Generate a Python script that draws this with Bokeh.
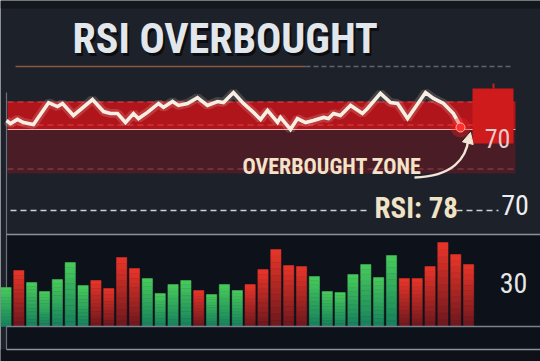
from bokeh.plotting import figure
from bokeh.models import Range1d, BoxAnnotation, Label, Arrow, NormalHead, ColumnDataSource
from bokeh.embed import file_html
from bokeh.resources import INLINE

# ---------------- data ----------------
title_text = "RSI OVERBOUGHT"
zone_text = "OVERBOUGHT ZONE"
rsi_label = "RSI: 78"
level_labels = ["70", "70", "30"]

# RSI line (time index, RSI value)
rsi_t = [0.04, 0.35, 0.89, 1.36, 2.14, 3.31, 4.01, 4.40, 5.25, 6.73, 7.59, 8.13, 8.68, 9.30,
         9.92, 10.31, 11.01, 11.87, 12.26, 12.96, 13.42, 14.12, 14.90, 15.68, 16.46, 16.93,
         17.70, 18.48, 19.26, 19.81, 20.35, 21.13, 21.36, 22.14, 22.68, 23.31, 23.93, 24.71,
         25.10, 25.49, 26.03, 26.81, 27.74, 28.13, 29.14, 29.92, 30.47, 31.25, 32.65, 33.27,
         34.05, 34.82, 35.21, 35.37]
rsi_v = [73.2, 72.1, 73.6, 72.5, 71.8, 79.6, 78.2, 79.3, 75.0, 80.7, 76.4, 75.7, 75.7, 72.5,
         75.7, 73.9, 76.1, 79.3, 77.9, 80.0, 78.6, 79.3, 81.4, 78.6, 80.0, 79.6,
         83.2, 79.3, 76.1, 73.6, 76.8, 72.5, 74.3, 70.0, 73.9, 72.5, 73.2, 74.3,
         73.9, 75.7, 75.0, 78.6, 75.7, 77.5, 82.9, 79.6, 79.3, 73.9, 83.2, 81.1,
         79.3, 75.7, 72.5, 70.7]

# volume bars
volume = [39, 56, 44, 35, 47, 64, 41, 46, 38, 69, 58, 48, 33, 42, 46, 36, 32, 42, 36, 42,
          57, 77, 61, 60, 50, 35, 34, 52, 62, 49, 71, 48, 48, 60, 84, 72, 62]
direction = ["up", "down", "up", "up", "up", "up", "up", "down", "down", "down", "down",
             "up", "up", "up", "up", "down", "up", "up", "up", "down", "down", "down",
             "down", "down", "up", "up", "up", "up", "up", "up", "up", "down", "down",
             "down", "down", "down", "down"]

# decorative candle (RSI units)
candle_high, candle_top, candle_bottom = 86.4, 84.6, 65.0

# ---------------- layout helpers (screen px -> data) ----------------
W, H = 540, 361
X0, DX = 5.5, 12.85
PXU = 2.8


def tx(px):
    return (px - X0) / DX


def vy(py):
    return 70 + (129 - py) / PXU


p = figure(width=W, height=H, output_backend="svg", toolbar_location=None,
           x_range=Range1d(tx(0), tx(W)), y_range=Range1d(vy(H), vy(0)),
           x_axis_location=None, y_axis_location=None, min_border=0,
           background_fill_color="#1d212a", border_fill_color="#1d212a",
           outline_line_color=None)
p.grid.visible = False
p.extra_y_ranges = {"vol": Range1d(326 - H, 326)}

FONT = "'Liberation Sans Narrow', 'Roboto Condensed', Roboto, sans-serif"


def box(**kw):
    b = BoxAnnotation(level="underlay", line_color=None, fill_alpha=kw.pop("fill_alpha", 1), **kw)
    p.add_layout(b)


# background shading
box(top=vy(0), bottom=vy(8), fill_color="#12151c", fill_alpha=0.8)
box(top=vy(349), bottom=vy(H), fill_color="#0e1117")

# red zone
box(left=tx(7), right=tx(515), top=vy(101), bottom=vy(129), fill_color="#b0151b")
box(left=tx(7), right=tx(515), top=vy(129), bottom=vy(173), fill_color="#4a1c26")

# bottom panel
box(left=tx(6), top=vy(234), bottom=vy(349), fill_color="#0d1119")

# title underline
p.segment(x0=[tx(15)], y0=[vy(66)], x1=[tx(305)], y1=[vy(66)], line_color="#8a5a3c", line_width=1.5)
p.segment(x0=[tx(305)], y0=[vy(66)], x1=[tx(512)], y1=[vy(66)], line_color="#5f6570", line_width=1.5,
          line_dash="5 3")

p.segment(x0=[tx(7)] * 2, y0=[vy(101.5), vy(124.5)], x1=[tx(515)] * 2, y1=[vy(101.5), vy(124.5)],
          line_color="#e65454", line_width=1, line_dash="6 4", line_alpha=0.8)
p.segment(x0=[tx(7)], y0=[vy(168.5)], x1=[tx(515)], y1=[vy(168.5)],
          line_color="#a8505c", line_width=1, line_dash="6 4", line_alpha=0.8)
p.segment(x0=[tx(7)], y0=[70], x1=[tx(515)], y1=[70], line_color="#eab0b0", line_width=1.2)

# left vertical border
p.segment(x0=[tx(6)], y0=[vy(92)], x1=[tx(6)], y1=[vy(349)], line_color="#6b717a", line_width=1.2)

# candle
p.quad(left=[tx(472)], right=[tx(513)], top=[candle_top], bottom=[candle_bottom],
       fill_color="#cf1b1b", line_color=None)
p.segment(x0=[tx(493)], y0=[candle_top], x1=[tx(493)], y1=[candle_high], line_color="#c42020", line_width=2)

# RSI line
p.line(rsi_t, rsi_v, line_color="#ffd0c0", line_width=9, line_alpha=0.18)
p.line(rsi_t, rsi_v, line_color="#f6efe4", line_width=3.6, line_join="miter")
p.scatter([rsi_t[-1]], [rsi_v[-1]], size=20, fill_color="#ff2020", fill_alpha=0.35, line_color=None)
p.scatter([rsi_t[-1]], [rsi_v[-1]], size=9, fill_color="#ff3030", line_color="#ffb0a0", line_width=1)

# arrow
p.bezier(x0=[tx(414)], y0=[vy(177)], x1=[tx(468)], y1=[vy(138)],
         cx0=[tx(452)], cy0=[vy(176)], cx1=[tx(466)], cy1=[vy(158)],
         line_color="#f0e6d8", line_width=2.5)
p.add_layout(Arrow(end=NormalHead(size=11, fill_color="#f0e6d8", line_color="#f0e6d8"),
                   x_start=tx(467.5), y_start=vy(142), x_end=tx(470), y_end=vy(132),
                   line_color="#f0e6d8", line_width=2.5))

# RSI 78 dashed line
p.segment(x0=[tx(10), tx(456)], y0=[vy(210)] * 2, x1=[tx(370), tx(498)], y1=[vy(210)] * 2,
          line_color="#cfd3d8", line_width=1.3, line_dash="6 4")

# bottom panel frame
p.segment(x0=[tx(6), tx(6)], y0=[vy(234), vy(349)], x1=[tx(W), tx(W)], y1=[vy(234), vy(349)],
          line_color="#8c929a", line_width=1.3)

# gradient bars
NS = 12
cols = {"up": ((74, 204, 92), (22, 128, 92)), "down": ((234, 54, 42), (108, 24, 30))}
bx, bb, bt, bc = [], [], [], []
for i, (v, d) in enumerate(zip(volume, direction)):
    top_c, bot_c = cols[d]
    for j in range(NS):
        f = (j + 0.5) / NS
        c = tuple(int(bot_c[k] + (top_c[k] - bot_c[k]) * f) for k in range(3))
        bx.append(i)
        bb.append(v * j / NS)
        bt.append(v * (j + 1) / NS)
        bc.append("#%02x%02x%02x" % c)
src = ColumnDataSource(dict(x=bx, bottom=bb, top=bt, color=bc))
p.vbar(x="x", bottom="bottom", top="top", width=0.8, fill_color="color", line_color="color",
       line_width=0.5, source=src, y_range_name="vol")
p.segment(x0=[tx(6)], y0=[0], x1=[tx(W)], y1=[0], line_color="#7d838c", line_width=1.3, y_range_name="vol")


# texts (baseline given in screen px; small correction for renderer baseline offset)
def label(px, py, text, size, color, bold=True, align="left", alpha=1.0):
    p.add_layout(Label(x=tx(px), y=vy(py - 0.28 * size), text=text, text_font=FONT,
                       text_font_size=f"{size}px", text_font_style="bold" if bold else "normal",
                       text_color=color, text_alpha=alpha, text_align=align,
                       text_baseline="alphabetic"))


label(74, 53, title_text, 42, "#05070a", alpha=0.75)
label(72, 50, title_text, 42, "#e2e7eb")
label(242, 172, zone_text, 22, "#f3e3c9")
label(374, 216, rsi_label, 29, "#f0e2c4")
label(497, 145, level_labels[0], 26, "#e8cccc", bold=False, align="center")
label(514.5, 212, level_labels[1], 28, "#eceef0", bold=False, align="center")
label(513, 290, level_labels[2], 28, "#e4e6e8", bold=False, align="center")

open("out.html", "w").write(file_html(p, INLINE))
